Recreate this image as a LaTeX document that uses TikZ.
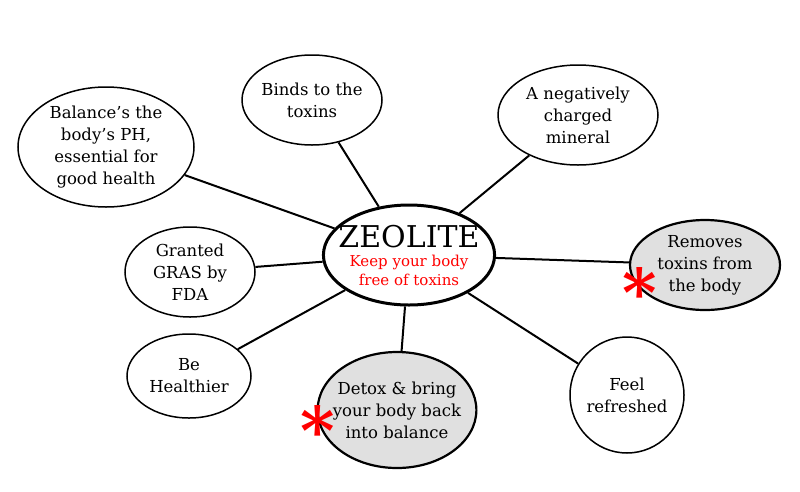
\documentclass[tikz,border=0pt]{standalone}
\usepackage{fontspec}
\setmainfont{DejaVu Serif}
\usetikzlibrary{shapes.geometric}
\begin{document}
\begin{tikzpicture}
    [x=1pt,y=-1pt,
     idea/.style={ellipse,draw,line width=1.5pt,inner sep=-8pt,align=center,
                  font=\fontsize{16.5}{22}\selectfont},
     key/.style={idea,fill=black!12,line width=2.2pt},
     link/.style={line width=2pt}]
    \useasboundingbox (0,0) rectangle (800,491);
    %the center
    \node[ellipse,draw,line width=3pt,inner sep=-10pt,minimum width=164pt,minimum height=100pt,align=center,
          font=\fontsize{15}{19}\selectfont]
        (zeo) at (409,255) {{\fontsize{30}{32}\selectfont ZEOLITE}\\
        \textcolor{red}{Keep your body}\\ \textcolor{red}{free of toxins}};
    %the ideas round it
    \node[idea,minimum width=176pt,minimum height=120pt] (bal) at (106,147) {Balance's the\\body's PH,\\essential for\\good health};
    \node[idea,minimum width=140pt,minimum height=90pt]  (bind) at (312,100) {Binds to the\\toxins};
    \node[idea,minimum width=160pt,minimum height=100pt] (neg) at (578,115) {A negatively\\charged\\mineral};
    \node[idea,minimum width=130pt,minimum height=90pt]  (gras) at (190,272) {Granted\\GRAS by\\FDA};
    \node[key,minimum width=150pt,minimum height=90pt]   (rem) at (705,265) {Removes\\toxins from\\the body};
    \node[idea,minimum width=124pt,minimum height=84pt]  (heal) at (189,376) {Be\\Healthier};
    \node[key,minimum width=156pt,minimum height=116pt]  (detox) at (397,410) {Detox \& bring\\your body back\\into balance};
    \node[idea,minimum width=114pt,minimum height=116pt] (feel) at (627,395) {Feel\\refreshed};

    %the links
    \foreach \n in {bal,bind,neg,gras,rem,heal,detox,feel}
        \draw[link] (zeo) -- (\n);

    %the stars
    \node[text=red,font=\fontsize{66}{66}\bfseries] (s1) at (640,292) {*};
    \node[text=red,font=\fontsize{66}{66}\bfseries] (s2) at (318,430) {*};
\end{tikzpicture}
\end{document}
